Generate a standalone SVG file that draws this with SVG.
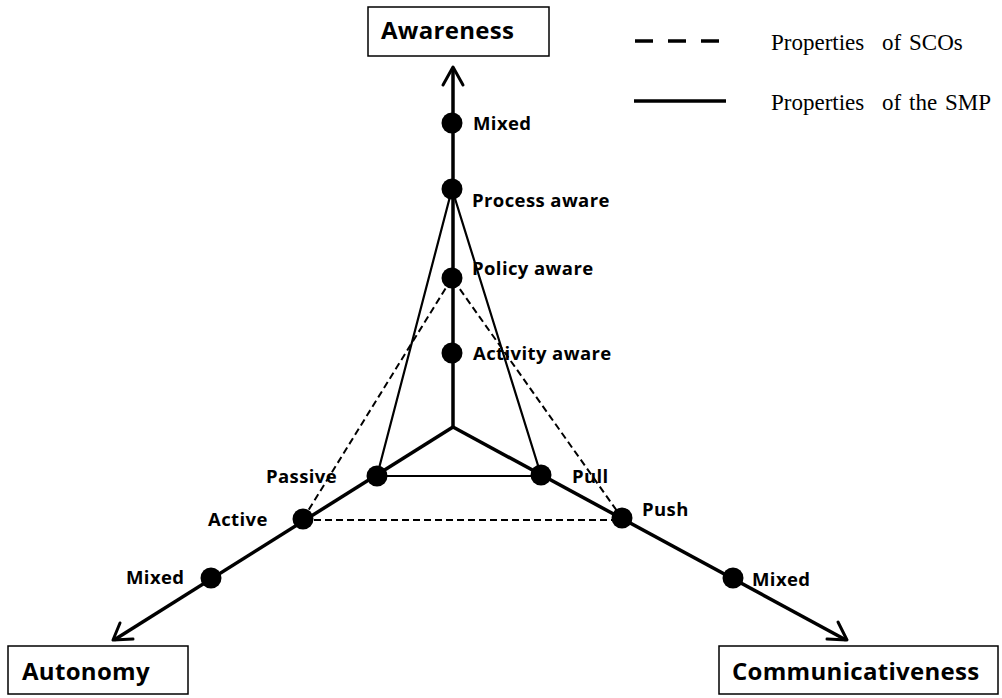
<svg xmlns="http://www.w3.org/2000/svg" width="1002" height="698" viewBox="0 0 1002 698">
  <style>
    .box { fill: #ffffff; stroke: #000000; stroke-width: 1.5; }
    .title { font-family: "Open Sans", "Liberation Sans", sans-serif; font-weight: bold; font-size: 24px; fill: #000000; letter-spacing: 0.3px; }
    .lbl { font-family: "Open Sans", "Liberation Sans", sans-serif; font-weight: bold; font-size: 18.5px; fill: #000000; letter-spacing: 0.4px; }
    .legend { font-family: "Liberation Serif", serif; font-size: 23px; fill: #000000; }
    .axis { stroke: #000000; stroke-width: 3.5; fill: none; }
    .head { stroke: #000000; stroke-width: 3; fill: none; stroke-linecap: round; stroke-linejoin: round; }
    .smp { stroke: #000000; stroke-width: 2.2; fill: none; }
    .sco { stroke: #000000; stroke-width: 2; fill: none; stroke-dasharray: 7 4; }
    .dot { fill: #000000; }
  </style>

  <!-- axis end boxes -->
  <g id="awareness">
    <rect class="box" x="368" y="7" width="181" height="49"/>
    <text class="title" x="381" y="39">Awareness</text>
  </g>
  <g id="autonomy">
    <rect class="box" x="8" y="646" width="180" height="48"/>
    <text class="title" x="22" y="680">Autonomy</text>
  </g>
  <g id="communicativeness">
    <rect class="box" x="719" y="646" width="279" height="48"/>
    <text class="title" x="732" y="680">Communicativeness</text>
  </g>

  <!-- legend -->
  <g id="legend">
    <line x1="635" y1="41" x2="720" y2="41" stroke="#000" stroke-width="3.5" stroke-dasharray="18 15"/>
    <line x1="634" y1="101" x2="726" y2="101" stroke="#000" stroke-width="3.5"/>
    <text class="legend" y="50"><tspan x="771">Properties</tspan><tspan x="882">of</tspan><tspan x="909">SCOs</tspan></text>
    <text class="legend" y="110"><tspan x="771">Properties</tspan><tspan x="882">of</tspan><tspan x="909">the</tspan><tspan x="945">SMP</tspan></text>
  </g>

  <g id="connectors">
    <!-- three axes from the centre -->
    <line class="axis" x1="453" y1="428" x2="453" y2="68"/>
    <line class="axis" x1="453" y1="427" x2="114" y2="640"/>
    <line class="axis" x1="453" y1="427" x2="846" y2="640"/>
    <!-- arrowheads -->
    <polyline class="head" points="443,85 453,67 463,85"/>
    <polyline class="head" points="120,623 113,640 133,639"/>
    <polyline class="head" points="827,639 847,640 838,622"/>

    <!-- SMP triangle -->
    <polyline class="smp" points="377,476 452,189 541,475"/>
    <line class="smp" x1="377" y1="476" x2="541" y2="476"/>

    <!-- SCO triangle -->
    <polyline class="sco" points="303,519 452,278 622,518"/>
    <line class="sco" x1="303" y1="520" x2="622" y2="520"/>
  </g>

  <!-- points on the awareness axis -->
  <g id="aw-mixed"><circle class="dot" cx="452" cy="123" r="10.5"/><text class="lbl" x="473" y="130">Mixed</text></g>
  <g id="aw-process"><circle class="dot" cx="452" cy="189" r="10.5"/><text class="lbl" x="472" y="207">Process aware</text></g>
  <g id="aw-policy"><circle class="dot" cx="452" cy="278" r="10.5"/><text class="lbl" x="472" y="275">Policy aware</text></g>
  <g id="aw-activity"><circle class="dot" cx="452" cy="353" r="10.5"/><text class="lbl" x="473" y="360">Activity aware</text></g>

  <!-- points on the autonomy axis -->
  <g id="au-passive"><circle class="dot" cx="377" cy="476" r="10.5"/><text class="lbl" x="266" y="483">Passive</text></g>
  <g id="au-active"><circle class="dot" cx="303" cy="519" r="10.5"/><text class="lbl" x="208" y="526">Active</text></g>
  <g id="au-mixed"><circle class="dot" cx="211" cy="578" r="10.5"/><text class="lbl" x="126" y="584">Mixed</text></g>

  <!-- points on the communicativeness axis -->
  <g id="co-pull"><circle class="dot" cx="541" cy="475" r="10.5"/><text class="lbl" x="572" y="483">Pull</text></g>
  <g id="co-push"><circle class="dot" cx="622" cy="518" r="10.5"/><text class="lbl" x="642" y="516">Push</text></g>
  <g id="co-mixed"><circle class="dot" cx="733" cy="578" r="10.5"/><text class="lbl" x="752" y="586">Mixed</text></g>
</svg>
